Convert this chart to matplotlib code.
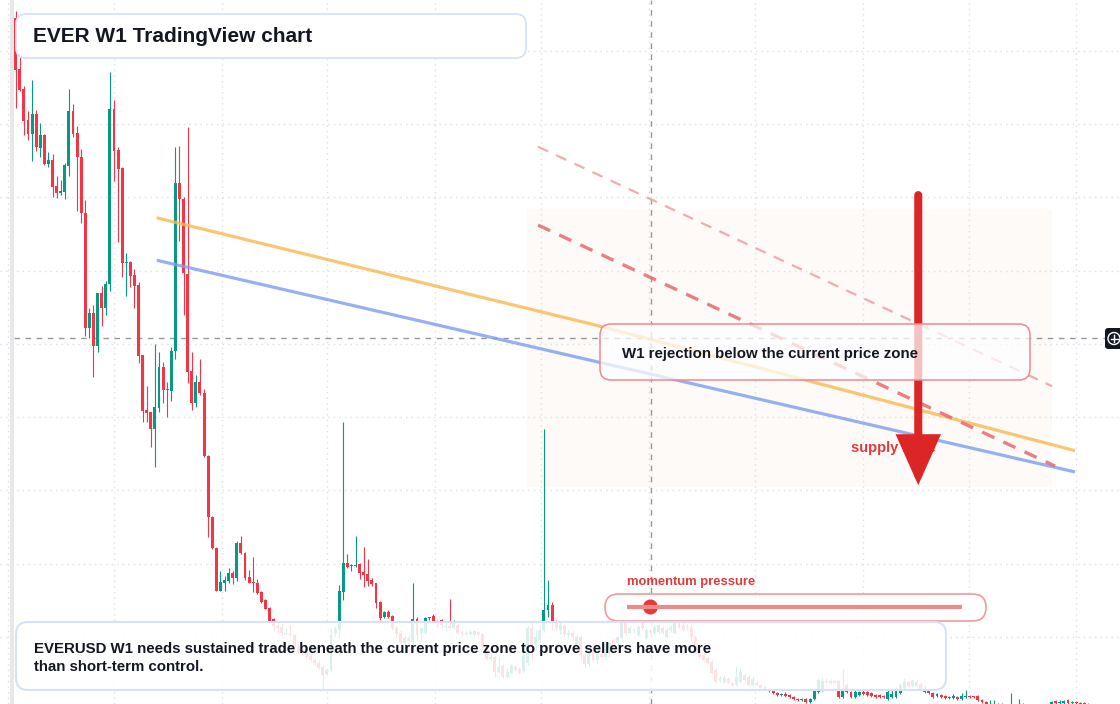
import matplotlib
matplotlib.use("Agg")
import matplotlib.pyplot as plt
import matplotlib.dates as mdates
from matplotlib.patches import FancyBboxPatch, Rectangle, Circle
from matplotlib.ticker import MultipleLocator, NullFormatter
import numpy as np
import pandas as pd

plt.rcParams["font.family"] = ["Liberation Sans", "DejaVu Sans"]

# =====================================================
# DATA  (EVERUSD weekly candles)
# =====================================================
first_week = "2021-01-14"

opens = [
    .945, .875, .848, .805, .786, .814, .767, .785, .745, .751,
    .715, .706, .707, .743, .818, .788, .755, .678, .521, .542,
    .497, .569, .549, .581, .820, .764, .740, .610, .612, .594,
    .580, .485, .410, .407, .384, .412, .468, .438, .435, .490,
    .719, .698, .595, .463, .419, .448, .433, .347, .263, .221,
    .162, .173, .176, .187, .180, .228, .214, .182, .175, .173,
    .161, .150, .139, .124, .115, .113, .104, .105, .102, .086,
    .082, .079, .074, .068, .064, .059, .049, .055, .105, .109,
    .161, .201, .197, .197, .199, .188, .186, .177, .173, .147,
    .127, .134, .128, .112, .105, .091, .098, .093, .124, .105,
    .105, .126, .128, .121, .123, .113, .115, .112, .116, .106,
    .104, .104, .102, .106, .104, .086, .070, .072, .052, .060,
    .045, .051, .059, .056, .053, .064, .112, .089, .096, .109,
    .137, .143, .120, .109, .115, .102, .105, .089, .100, .075,
    .063, .079, .068, .076, .072, .085, .096, .091, .098, .120,
    .105, .108, .102, .119, .098, .108, .105, .106, .112, .100,
    .109, .105, .119, .116, .112, .112, .100, .082, .075, .071,
    .066, .055, .040, .038, .042, .037, .034, .038, .048, .045,
    .034, .037, .034, .031, .029, .027, .023, .020, .022, .020,
    .018, .015, .014, .015, .011, .015, .025, .027, .040, .037,
    .040, .040, .018, .034, .025, .018, .020, .025, .025, .023,
    .020, .020, .019, .015, .018, .018, .023, .030, .038, .033,
    .038, .035, .029, .026, .023, .019, .020, .019, .018, .016,
    .018, .015, .018, .019, .019, .019, .014, .011, .005, .004,
    .005, .007, .003, .004, .004, .005, .007, .004, .003, .004,
    .003, .005, .004, .008, .012, .010, .010, .014, .010, .011,
    .010, .010, .008,
]
highs = [
    .954, .891, .852, .818, .860, .819, .801, .786, .762, .759,
    .729, .723, .747, .848, .827, .797, .766, .696, .549, .553,
    .569, .579, .586, .871, .833, .768, .741, .624, .613, .602,
    .584, .485, .442, .407, .500, .489, .475, .448, .496, .768,
    .770, .700, .796, .489, .457, .479, .438, .348, .265, .222,
    .190, .183, .194, .190, .231, .238, .216, .191, .209, .179,
    .162, .152, .141, .126, .119, .117, .112, .116, .104, .089,
    .087, .082, .078, .071, .068, .061, .057, .112, .115, .171,
    .393, .213, .199, .238, .201, .222, .206, .180, .173, .149,
    .135, .137, .130, .115, .109, .101, .102, .173, .127, .113,
    .127, .127, .131, .123, .124, .119, .152, .123, .119, .109,
    .108, .109, .109, .108, .105, .089, .078, .075, .072, .063,
    .057, .063, .061, .059, .078, .116, .120, .109, .115, .384,
    .177, .147, .123, .120, .117, .109, .108, .104, .102, .079,
    .082, .082, .079, .083, .096, .094, .098, .101, .123, .123,
    .115, .112, .116, .121, .113, .111, .116, .117, .115, .112,
    .116, .123, .121, .120, .117, .116, .102, .085, .078, .074,
    .068, .057, .046, .048, .045, .038, .060, .057, .051, .048,
    .046, .040, .035, .033, .030, .029, .025, .023, .025, .022,
    .019, .016, .016, .016, .016, .027, .044, .045, .044, .042,
    .041, .041, .056, .037, .026, .030, .026, .027, .026, .025,
    .022, .022, .020, .030, .027, .031, .037, .044, .040, .042,
    .041, .038, .034, .027, .025, .023, .022, .020, .019, .022,
    .019, .023, .027, .020, .019, .020, .015, .012, .014, .014,
    .010, .010, .008, .023, .008, .015, .010, .005, .005, .005,
    .005, .007, .008, .012, .014, .014, .014, .015, .012, .012,
    .011, .011, .010,
]
lows = [
    .822, .845, .785, .778, .749, .763, .755, .744, .741, .700,
    .699, .703, .698, .729, .782, .681, .665, .511, .508, .455,
    .489, .524, .539, .572, .722, .639, .591, .565, .577, .549,
    .474, .393, .393, .359, .332, .407, .419, .400, .422, .479,
    .640, .539, .446, .410, .414, .430, .345, .236, .220, .162,
    .162, .162, .173, .172, .176, .213, .177, .173, .161, .158,
    .146, .138, .119, .108, .105, .102, .104, .101, .082, .076,
    .075, .071, .066, .061, .056, .027, .048, .052, .101, .100,
    .150, .194, .190, .195, .179, .168, .169, .169, .139, .123,
    .126, .126, .109, .098, .087, .085, .089, .089, .096, .096,
    .104, .123, .117, .113, .112, .109, .111, .111, .104, .101,
    .102, .102, .100, .101, .083, .068, .068, .045, .051, .044,
    .044, .049, .053, .049, .052, .061, .068, .082, .075, .106,
    .127, .109, .109, .104, .101, .100, .096, .087, .068, .057,
    .060, .066, .064, .071, .070, .072, .082, .089, .096, .102,
    .104, .105, .101, .109, .096, .105, .102, .104, .104, .098,
    .106, .104, .112, .108, .109, .096, .076, .071, .067, .063,
    .049, .037, .038, .037, .035, .033, .033, .037, .040, .033,
    .033, .033, .029, .027, .025, .022, .019, .019, .018, .016,
    .014, .012, .012, .010, .010, .014, .023, .026, .037, .035,
    .037, .016, .016, .023, .016, .016, .019, .020, .019, .018,
    .016, .016, .016, .014, .016, .016, .022, .029, .031, .031,
    .031, .027, .023, .022, .016, .018, .016, .015, .015, .015,
    .014, .014, .016, .016, .016, .012, .010, .007, .003, .002,
    .002, .003, .002, .002, .002, .002, .003, .002, .002, .002,
    .002, .003, .003, .007, .008, .008, .008, .008, .008, .008,
    .007, .005, .005,
]
closes = [
    .874, .846, .804, .786, .814, .768, .785, .745, .751, .714,
    .706, .708, .744, .818, .786, .755, .678, .521, .542, .497,
    .569, .549, .581, .820, .763, .738, .610, .612, .592, .579,
    .483, .408, .405, .384, .414, .468, .437, .437, .490, .719,
    .698, .597, .461, .419, .448, .433, .347, .263, .221, .162,
    .175, .177, .187, .180, .228, .214, .180, .173, .173, .160,
    .147, .138, .121, .115, .112, .105, .105, .102, .086, .081,
    .078, .072, .068, .064, .057, .048, .055, .102, .111, .162,
    .201, .195, .198, .198, .187, .184, .176, .172, .146, .126,
    .134, .127, .112, .104, .091, .098, .094, .124, .102, .112,
    .126, .127, .120, .119, .116, .115, .112, .121, .105, .104,
    .105, .106, .108, .104, .086, .070, .072, .052, .059, .045,
    .052, .060, .055, .051, .075, .112, .089, .100, .109, .137,
    .143, .120, .112, .116, .104, .105, .100, .100, .075, .063,
    .079, .068, .076, .072, .090, .091, .085, .100, .119, .105,
    .112, .109, .113, .112, .109, .106, .113, .116, .105, .109,
    .113, .119, .113, .109, .113, .100, .079, .072, .068, .064,
    .051, .038, .044, .044, .037, .034, .045, .052, .041, .034,
    .042, .034, .030, .029, .026, .023, .020, .022, .019, .018,
    .015, .014, .015, .011, .015, .026, .041, .040, .038, .040,
    .037, .018, .029, .025, .018, .025, .025, .022, .020, .019,
    .018, .018, .018, .025, .022, .026, .034, .038, .033, .040,
    .033, .029, .025, .023, .018, .022, .018, .016, .016, .019,
    .015, .019, .019, .018, .018, .014, .011, .008, .008, .007,
    .003, .004, .005, .007, .005, .007, .004, .003, .004, .003,
    .005, .004, .007, .011, .010, .011, .012, .010, .011, .010,
    .008, .008, .007,
]

# drawn levels (date, price)
ma_fast_dates = ["2021-09-12", "2023-10-10", "2025-12-30"]
ma_fast_prices = [0.672, 0.524, 0.354]
ma_slow_dates = ["2021-09-12", "2025-12-30"]
ma_slow_prices = [0.614, 0.325]
upper_trend_dates = ["2023-06-26", "2025-11-21"]
upper_trend_prices = [0.769, 0.442]
lower_trend_dates = ["2023-06-26", "2025-11-26"]
lower_trend_prices = [0.662, 0.333]
zone_dates = ["2023-06-07", "2025-11-21"]
zone_prices = [0.304, 0.683]
arrow_date = "2025-04-06"
arrow_prices = [0.703, 0.307]
label_date = "2024-12-12"
label_price = 0.358
cross_date = "2024-01-05"
cross_price = 0.508
momentum = 0.07

GREEN = "#089981"
RED = "#f23645"
TEXT = "#131722"

# =====================================================
# FIGURE
# =====================================================
fig = plt.figure(figsize=(11.2, 7.04), dpi=100)
ax = fig.add_axes([0, 0, 1, 1])

dates = pd.date_range(first_week, periods=len(opens), freq="7D")
x = mdates.date2num(dates)
o, h, l, c = map(np.array, (opens, highs, lows, closes))
up = c >= o
col = np.where(up, GREEN, RED)

ax.vlines(x, l, h, colors=col, lw=0.8, zorder=3)
ax.bar(x, np.maximum(np.abs(c - o), 0.0012), bottom=np.minimum(o, c),
       width=5.0, color=col, lw=0, zorder=4)

# axis frame: x in weeks from first bar, y in price
week = 7.0
ax.set_xlim(x[0] - 3.835 * week, x[0] + 269.7 * week)
ax.set_ylim(0.0082, 0.9693)
ax.xaxis.set_major_locator(mdates.MonthLocator(bymonth=(1, 7)))
ax.yaxis.set_major_locator(MultipleLocator(0.1))
ax.xaxis.set_major_formatter(NullFormatter())
ax.yaxis.set_major_formatter(NullFormatter())
ax.tick_params(length=0)
for s in ax.spines.values():
    s.set_visible(False)
ax.grid(True, color="#dcdfe4", linestyle=(0, (1, 3)), lw=1, zorder=0)

# supply zone shading
zd = mdates.date2num(pd.to_datetime(zone_dates))
ax.add_patch(Rectangle((zd[0], zone_prices[0]), zd[1] - zd[0],
                       zone_prices[1] - zone_prices[0],
                       color="#fdfaf8", lw=0, zorder=1))

# crosshair
ax.axhline(cross_price, xmin=14 / 1120, color="#9598a1", lw=1,
           ls=(0, (4, 4)), zorder=2)
ax.axvline(pd.Timestamp(cross_date), color="#9598a1", lw=1,
           ls=(0, (4, 4)), zorder=2)

# moving-average style curves and trend lines
ax.plot(pd.to_datetime(ma_fast_dates), ma_fast_prices, color="#f8b84e",
        lw=2.3, alpha=0.8, zorder=5, solid_capstyle="butt")
ax.plot(pd.to_datetime(ma_slow_dates), ma_slow_prices, color="#7b9ef0",
        lw=2.3, alpha=0.8, zorder=5, solid_capstyle="butt")
ax.plot(pd.to_datetime(upper_trend_dates), upper_trend_prices,
        color="#f09ea2", lw=1.6, alpha=0.85, ls=(0, (5, 4)), zorder=5)
ax.plot(pd.to_datetime(lower_trend_dates), lower_trend_prices,
        color="#e9686d", lw=2.4, alpha=0.85, ls=(0, (4, 3)), zorder=5)

# "supply zone" label under the arrow
ax.text(pd.Timestamp(label_date), label_price, "supply zone", color="#e03a3a",
        fontsize=10.5, fontweight="bold", va="center", ha="left", zorder=6)

# red arrow
ax.annotate("", xy=(pd.Timestamp(arrow_date), arrow_prices[1]),
            xytext=(pd.Timestamp(arrow_date), arrow_prices[0]),
            arrowprops=dict(arrowstyle="-|>,head_length=0.74,head_width=0.33",
                            mutation_scale=36, lw=5.8, color="#dc2626",
                            shrinkA=0, shrinkB=0, capstyle="round",
                            joinstyle="miter"),
            zorder=7)

# =====================================================
# SCREEN OVERLAYS (pixel layout)
# =====================================================
ov = fig.add_axes([0, 0, 1, 1], zorder=5)
ov.set_xlim(0, 1120)
ov.set_ylim(704, 0)
ov.axis("off")
ov.patch.set_alpha(0)

ov.add_patch(Rectangle((10, 0), 4, 704, color="#e8e8ea", lw=0))

# title card
ov.add_patch(FancyBboxPatch((16, 14), 510, 44,
                            boxstyle="round,pad=0,rounding_size=10",
                            fc="white", ec="#d5e2fa", lw=1.3))
ov.text(33, 36, "EVER W1 TradingView chart", fontsize=15, fontweight="bold",
        color=TEXT, va="center", ha="left")

# callout
ov.add_patch(FancyBboxPatch((600, 324), 430, 56,
                            boxstyle="round,pad=0,rounding_size=11",
                            fc=(1, 1, 1, 0.72), ec="#f0888d", lw=1.1))
ov.text(622, 354, "W1 rejection below the current price zone", fontsize=10.8,
        fontweight="bold", color=TEXT, va="center", ha="left")

# momentum gauge
ov.text(627, 582, "momentum pressure", fontsize=9.4, fontweight="bold",
        color="#e03a3a", va="center", ha="left")
ov.add_patch(FancyBboxPatch((605, 594), 381, 27,
                            boxstyle="round,pad=0,rounding_size=13.5",
                            fc=(1, 1, 1, 0.8), ec="#f19a9a", lw=1.2))
track = (627, 962)
ov.plot(track, (607, 607), color="#ef8a8a", lw=3, solid_capstyle="butt")
ov.add_patch(Circle((track[0] + momentum * (track[1] - track[0]), 607), 7.5,
                    color="#e33b3b", lw=0))

# bottom note
ov.add_patch(FancyBboxPatch((16, 622), 930, 68,
                            boxstyle="round,pad=0,rounding_size=12",
                            fc=(1, 1, 1, 0.86), ec="#d5e2fa", lw=1.5))
ov.text(34, 658,
        "EVERUSD W1 needs sustained trade beneath the current price zone to prove sellers have more\n"
        "than short-term control.",
        fontsize=10.8, fontweight="bold", color=TEXT, va="center", ha="left",
        linespacing=1.35)

# crosshair price-scale button
ov.add_patch(FancyBboxPatch((1105, 328), 24, 21,
                            boxstyle="round,pad=0,rounding_size=3",
                            fc="#131722", ec="none"))
ov.add_patch(Circle((1114, 338.5), 6, fc="none", ec="white", lw=1))
ov.plot((1110.5, 1117.5), (338.5, 338.5), color="white", lw=1)
ov.plot((1114, 1114), (335, 342), color="white", lw=1)

fig.savefig("out.png", dpi=100)
